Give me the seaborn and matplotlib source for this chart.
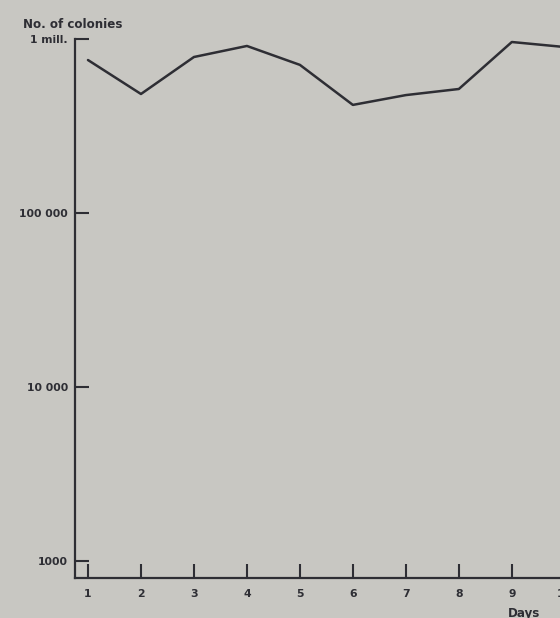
import matplotlib
matplotlib.use("Agg")
import matplotlib.pyplot as plt
import seaborn as sns
import pandas as pd

# Colony counts per day
days = [1, 2, 3, 4, 5, 6, 7, 8, 9, 10]
colonies = [757000, 483000, 788000, 912000, 710000, 418000, 476000, 516000, 961000, 899000]

y_ticks = [1000, 10000, 100000, 1000000]
y_tick_labels = ["1000", "10 000", "100 000", "1 mill."]
x_ticks = [1, 2, 3, 4, 5, 6, 7, 8, 9, 10]
x_tick_labels = ["1", "2", "3", "4", "5", "6", "7", "8", "9", "10"]

paper = "#c8c7c2"
ink = "#2e2e34"

sns.set_style("white")
plt.rcParams["font.family"] = ["DejaVu Sans"]

df = pd.DataFrame({"day": days, "colonies": colonies})

fig = plt.figure(figsize=(5.6, 6.18), dpi=100, facecolor=paper)
ax = fig.add_axes([75 / 560, 40 / 618, 511 / 560, 539 / 618])
ax.set_facecolor(paper)

sns.lineplot(data=df, x="day", y="colonies", ax=ax, color=ink, linewidth=1.8)

ax.set_yscale("log")
ax.set_ylim(798, 1000000)
ax.set_xlim(0.755, 10.4)

ax.set_yticks(y_ticks)
ax.set_yticklabels(y_tick_labels)
ax.yaxis.set_minor_locator(matplotlib.ticker.NullLocator())
ax.set_xticks(x_ticks)
ax.set_xticklabels(x_tick_labels)

for side in ("top", "right"):
    ax.spines[side].set_visible(False)
for side in ("left", "bottom"):
    ax.spines[side].set_color(ink)
    ax.spines[side].set_linewidth(1.6)

ax.tick_params(axis="y", which="major", left=True, direction="in", length=10,
               width=1.5, color=ink, pad=5, labelsize=7.8, labelcolor=ink)
ax.tick_params(axis="x", which="major", bottom=True, direction="in", length=10,
               width=1.5, color=ink, pad=8, labelsize=7.8, labelcolor=ink)
for lbl in ax.get_xticklabels() + ax.get_yticklabels():
    lbl.set_fontweight("bold")

ax.set_xlabel("")
ax.set_ylabel("")

fig.text(23 / 560, 1 - 24 / 618, "No. of colonies", fontsize=8.6, fontweight="bold",
         color=ink, ha="left", va="center")
fig.text(508 / 560, 1 - 613 / 618, "Days", fontsize=8.6, fontweight="bold",
         color=ink, ha="left", va="center")

fig.savefig("out.png", dpi=100, facecolor=paper)
